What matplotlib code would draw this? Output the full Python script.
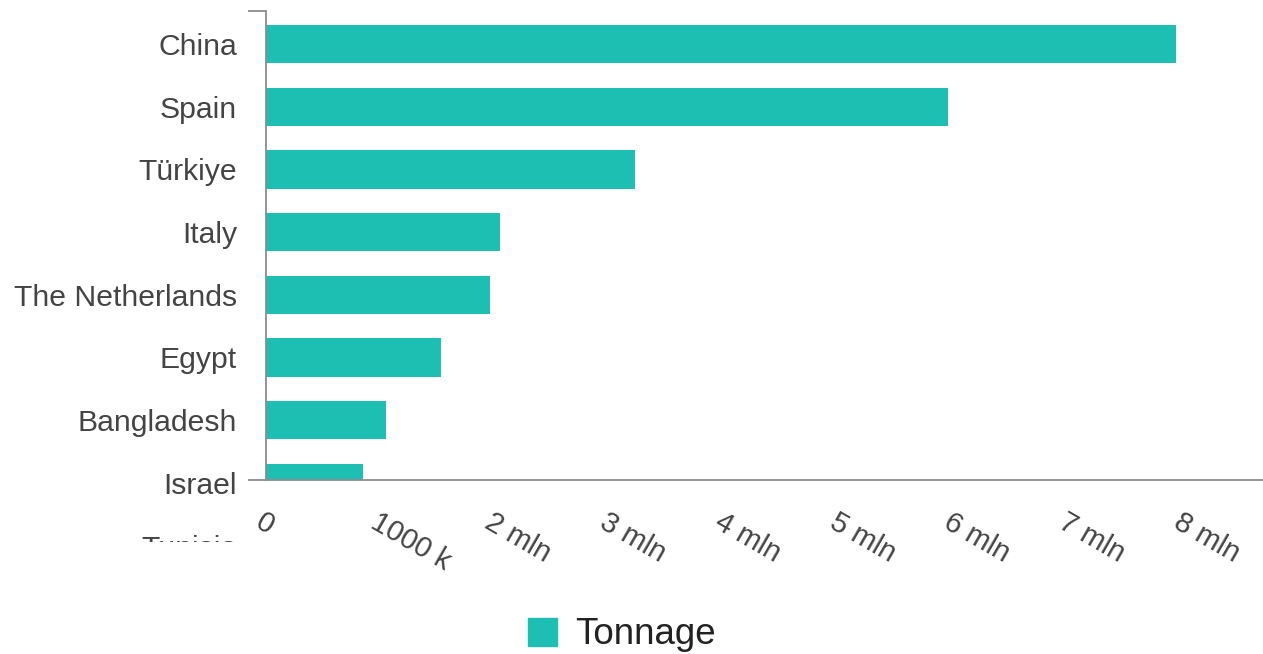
import matplotlib
matplotlib.use("Agg")
import matplotlib.pyplot as plt
from matplotlib.patches import Patch
from matplotlib.transforms import ScaledTranslation, Bbox

# Production by country (tonnes)
countries = ["China", "Spain", "Türkiye", "Italy", "The Netherlands",
             "Egypt", "Bangladesh", "Israel", "Tunisia"]
tonnage = [7930000, 5950000, 3220000, 2040000, 1950000,
           1530000, 1050000, 850000, 800000]
tick_values = [0, 1000000, 2000000, 3000000, 4000000,
               5000000, 6000000, 7000000, 8000000]
tick_labels = ["0", "1000 k", "2 mln", "3 mln", "4 mln",
               "5 mln", "6 mln", "7 mln", "8 mln"]
series_name = "Tonnage"

BAR = "#1ebfb3"
AXIS = "#8c8c8c"
LABEL = "#444444"

plt.rcParams["font.family"] = ["Liberation Sans", "DejaVu Sans"]

W, H = 1263, 654
fig = plt.figure(figsize=(W / 100, H / 100), dpi=100)
left, right, top, bottom = 266, 1263, 11, 480
ax = fig.add_axes([left / W, 1 - bottom / H, (right - left) / W, (bottom - top) / H])

positions = list(range(len(countries)))
ax.barh(positions, tonnage, height=0.61, color=BAR, zorder=2)

y_top, y_bottom = -0.526, 6.954
ax.set_xlim(0, 8.692e6)

# axis lines
for s in ("top", "right"):
    ax.spines[s].set_visible(False)
for s in ("left", "bottom"):
    ax.spines[s].set_color(AXIS)
    ax.spines[s].set_linewidth(1.3)

# outer ticks only on the y axis
ax.set_yticks([y_top, y_bottom])
ax.set_yticklabels(["", ""])
ax.set_ylim(y_bottom, y_top)
ax.tick_params(axis="y", length=13, width=1.3, color=AXIS, direction="out")

# x axis: unticked labels plus an outer tick at zero
ax.set_xticks(tick_values)
ax.set_xticklabels(tick_labels)
ax.set_xticks([0], minor=True)
ax.tick_params(axis="x", which="major", length=0, pad=20, labelsize=21, labelcolor=LABEL)
ax.tick_params(axis="x", which="minor", length=13, width=1.3, color=AXIS)
for lab in ax.get_xticklabels():
    lab.set_rotation(-30)
    lab.set_ha("left")
    lab.set_va("top")
    lab.set_rotation_mode("anchor")
    lab.set_transform(lab.get_transform() + ScaledTranslation(-1 / 100, 0, fig.dpi_scale_trans))

# category labels to the left of the axis, clipped below the chart area
label_trans = ax.get_yaxis_transform() + ScaledTranslation(-29 / 100, -3 / 100, fig.dpi_scale_trans)
clip = Bbox([[0, H - 542], [W, H]])
for pos, name in zip(positions, countries):
    t = ax.text(0, pos, name, transform=label_trans, ha="right", va="center",
                fontsize=21.7, color=LABEL)
    t.set_clip_box(clip)
    t.set_clip_on(True)

fig.legend(handles=[Patch(facecolor=BAR, edgecolor=BAR, label=series_name)],
           loc="center", bbox_to_anchor=(622 / W, 1 - 635 / H), frameon=False,
           fontsize=26.5, labelcolor="#222222", handlelength=0.79, handleheight=0.79,
           handletextpad=0.5, borderaxespad=0, borderpad=0)

fig.savefig("out.png", dpi=100)
